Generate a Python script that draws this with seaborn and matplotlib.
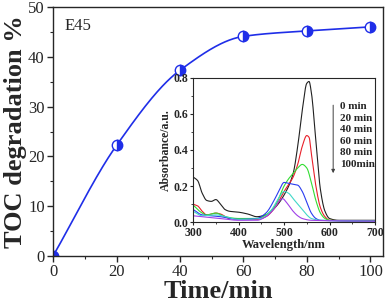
import numpy as np
import pandas as pd
import matplotlib
matplotlib.use("Agg")
import matplotlib.pyplot as plt
import seaborn as sns

# TOC degradation data
time_min = [0, 20, 40, 60, 80, 100]
toc_pct = [0.0, 22.2, 37.3, 44.1, 45.2, 46.0]

# UV-vis spectra (inset)
wl_0 = [300, 310, 320, 330, 340, 350, 360, 370, 380, 400, 420, 440, 460, 480, 500, 520, 530, 540, 550, 555, 560, 570, 580, 590, 600, 620, 700]
abs_0 = [0.25, 0.23, 0.16, 0.12, 0.115, 0.125, 0.10, 0.07, 0.06, 0.055, 0.045, 0.03, 0.04, 0.08, 0.15, 0.27, 0.42, 0.62, 0.77, 0.78, 0.72, 0.45, 0.18, 0.06, 0.02, 0.01, 0.01]
wl_20 = [300, 310, 320, 330, 350, 360, 380, 440, 460, 480, 500, 520, 530, 540, 550, 555, 560, 570, 580, 590, 600, 700]
abs_20 = [0.10, 0.09, 0.06, 0.04, 0.05, 0.045, 0.02, 0.015, 0.03, 0.08, 0.17, 0.25, 0.32, 0.42, 0.48, 0.47, 0.38, 0.20, 0.08, 0.03, 0.01, 0.005]
wl_40 = [300, 320, 330, 350, 370, 400, 440, 460, 480, 500, 510, 520, 530, 540, 550, 560, 570, 580, 590, 600, 700]
abs_40 = [0.095, 0.05, 0.04, 0.05, 0.03, 0.02, 0.02, 0.04, 0.09, 0.20, 0.24, 0.27, 0.30, 0.32, 0.30, 0.22, 0.12, 0.05, 0.02, 0.01, 0.005]
wl_60 = [300, 320, 340, 360, 400, 440, 460, 480, 490, 500, 510, 520, 530, 540, 550, 560, 570, 580, 700]
abs_60 = [0.07, 0.04, 0.035, 0.03, 0.015, 0.02, 0.05, 0.13, 0.18, 0.22, 0.215, 0.21, 0.205, 0.17, 0.11, 0.05, 0.02, 0.01, 0.005]
wl_80 = [300, 320, 350, 400, 450, 470, 490, 500, 510, 520, 530, 540, 550, 560, 580, 700]
abs_80 = [0.06, 0.035, 0.04, 0.015, 0.02, 0.06, 0.14, 0.17, 0.16, 0.13, 0.10, 0.07, 0.04, 0.02, 0.01, 0.005]
wl_100 = [300, 320, 340, 360, 400, 440, 460, 480, 490, 497, 505, 520, 530, 540, 560, 700]
abs_100 = [0.035, 0.03, 0.025, 0.02, 0.01, 0.01, 0.03, 0.08, 0.12, 0.13, 0.11, 0.06, 0.035, 0.02, 0.01, 0.005]

spec_labels = ["0 min", "20 min", "40 min", "60 min", "80 min", "100min"]
spec_colors = ["#202020", "#e8202a", "#33dd33", "#2a3cf0", "#40d8c8", "#a040e8"]


def smooth(x, y, n=300):
    # monotone cubic (Fritsch-Carlson) just for drawing a smooth line
    x = np.asarray(x, float)
    y = np.asarray(y, float)
    h = np.diff(x)
    d = np.diff(y) / h
    m = np.zeros_like(y)
    m[0], m[-1] = d[0], d[-1]
    for i in range(1, len(x) - 1):
        if d[i - 1] * d[i] <= 0:
            m[i] = 0
        else:
            w1 = 2 * h[i] + h[i - 1]
            w2 = h[i] + 2 * h[i - 1]
            m[i] = (w1 + w2) / (w1 / d[i - 1] + w2 / d[i])
    xs = np.linspace(x[0], x[-1], n)
    idx = np.clip(np.searchsorted(x, xs) - 1, 0, len(x) - 2)
    t = (xs - x[idx]) / h[idx]
    h00 = 2 * t**3 - 3 * t**2 + 1
    h10 = t**3 - 2 * t**2 + t
    h01 = -2 * t**3 + 3 * t**2
    h11 = t**3 - t**2
    ys = h00 * y[idx] + h10 * h[idx] * m[idx] + h01 * y[idx + 1] + h11 * h[idx] * m[idx + 1]
    return xs, ys


sns.set_style("ticks")
plt.rcParams["font.family"] = ["Liberation Serif", "DejaVu Serif"]

fig = plt.figure(figsize=(3.87, 3.03), dpi=100)
ax = fig.add_axes([0.137, 0.155, 0.853, 0.822])

blue = "#1f2ee8"
xs, ys = smooth(time_min, toc_pct)
sns.lineplot(x=xs, y=ys, ax=ax, color=blue, lw=1.2)
ax.plot(time_min, toc_pct, "o", ms=7.5, color=blue, fillstyle="right",
        markerfacecoloralt="white", markeredgecolor=blue, mew=1.0)

ax.set_xlim(0, 104)
ax.set_ylim(0, 50)
ax.set_xticks([0, 20, 40, 60, 80, 100])
ax.set_yticks([0, 10, 20, 30, 40, 50])
ax.set_xticks([10, 30, 50, 70, 90], minor=True)
ax.set_yticks([5, 15, 25, 35, 45], minor=True)
ax.tick_params(which="major", direction="out", length=4, width=1, labelsize=12, pad=2)
ax.tick_params(which="minor", direction="out", length=2.5, width=0.8)
for s in ax.spines.values():
    s.set_linewidth(1.0)
    s.set_visible(True)
ax.set_xlabel("Time/min", fontsize=19, fontweight="bold", labelpad=0)
ax.set_ylabel("TOC degradation %", fontsize=19, fontweight="bold", labelpad=1)
ax.text(0.035, 0.955, "E45", transform=ax.transAxes, fontsize=12, va="top", ha="left")

# inset with spectra
ins = fig.add_axes([0.499, 0.267, 0.47, 0.476])
spectra = [(wl_0, abs_0), (wl_20, abs_20), (wl_40, abs_40), (wl_60, abs_60), (wl_80, abs_80), (wl_100, abs_100)]
for (w, a), c in zip(spectra, spec_colors):
    sx, sy = smooth(w, a, 500)
    sns.lineplot(x=sx, y=sy, ax=ins, color=c, lw=0.8)
ins.set_xlim(300, 700)
ins.set_ylim(0, 0.8)
ins.set_xticks([300, 400, 500, 600, 700])
ins.set_yticks([0.0, 0.2, 0.4, 0.6, 0.8])
ins.set_xticks([350, 450, 550, 650], minor=True)
ins.set_yticks([0.1, 0.3, 0.5, 0.7], minor=True)
ins.tick_params(which="major", direction="out", length=2.5, width=0.8, labelsize=8.5, pad=1)
ins.tick_params(which="minor", direction="out", length=1.5, width=0.6)
ins.yaxis.set_major_formatter(matplotlib.ticker.FormatStrFormatter("%.1f"))
for lab in ins.get_xticklabels() + ins.get_yticklabels():
    lab.set_fontweight("bold")
for s in ins.spines.values():
    s.set_linewidth(0.8)
    s.set_visible(True)
ins.set_xlabel("Wavelength/nm", fontsize=9, fontweight="bold", labelpad=0)
ins.set_ylabel("Absorbance/a.u.", fontsize=8.5, fontweight="bold", labelpad=1)

for i, lab in enumerate(spec_labels):
    ins.text(0.81, 0.8 - i * 0.08, lab, transform=ins.transAxes, fontsize=8,
             fontweight="bold", ha="left", va="center")
ins.annotate("", xy=(0.77, 0.32), xytext=(0.77, 0.83), xycoords="axes fraction",
             arrowprops=dict(arrowstyle="-|>", color="#404040", lw=0.7, mutation_scale=5))

fig.savefig("out.png", dpi=100)
